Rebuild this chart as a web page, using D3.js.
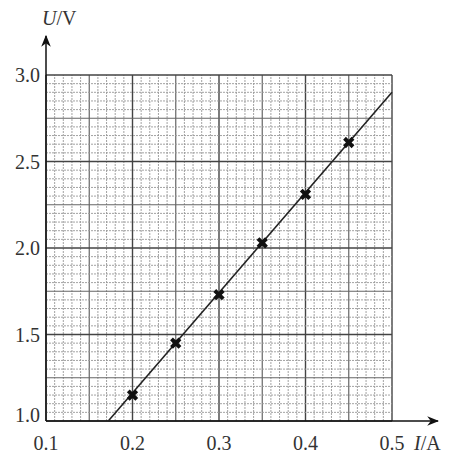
<!DOCTYPE html>
<html>
<head>
<meta charset="utf-8">
<script src="https://cdn.jsdelivr.net/npm/d3@7.9.0/dist/d3.min.js"></script>
<style>
  body { margin: 0; background: #fff; }
  svg { display: block; }
  text { font-family: "Liberation Serif", "DejaVu Serif", serif; fill: #333; }
</style>
</head>
<body>
<div id="chart"></div>
<script>
const currents = [0.2, 0.25, 0.3, 0.35, 0.4, 0.45];
const voltages = [1.15, 1.45, 1.73, 2.03, 2.31, 2.61];
// fitted line end points
const fitLine = [[0.172, 1.0], [0.5, 2.9]];
const xTicks = [0.1, 0.2, 0.3, 0.4, 0.5];
const yTicks = [1.0, 1.5, 2.0, 2.5, 3.0];

const width = 457, height = 455;
const svg = d3.select('#chart').append('svg')
  .attr('width', width).attr('height', height);

const x = d3.scaleLinear().domain([0.1, 0.5]).range([46, 392]);
const y = d3.scaleLinear().domain([1.0, 3.0]).range([421, 75]);

// grid paper: minor every 0.01 A / 0.05 V, medium at half, major at ticks
const grid = svg.append('g');
const styleOf = i => i % 10 === 0
  ? { c: '#444', w: 1.4, d: null }
  : i % 5 === 0 ? { c: '#666', w: 1.2, d: null } : { c: '#999', w: 0.9, d: '2,1' };
d3.range(0, 41).forEach(i => {
  const s = styleOf(i), v = 0.1 + i * 0.01;
  grid.append('line')
    .attr('x1', x(v)).attr('x2', x(v)).attr('y1', y(1.0)).attr('y2', y(3.0))
    .attr('stroke', s.c).attr('stroke-width', s.w).attr('stroke-dasharray', s.d);
});
d3.range(0, 41).forEach(i => {
  const s = styleOf(i), v = 1.0 + i * 0.05;
  grid.append('line')
    .attr('x1', x(0.1)).attr('x2', x(0.5)).attr('y1', y(v)).attr('y2', y(v))
    .attr('stroke', s.c).attr('stroke-width', s.w).attr('stroke-dasharray', s.d);
});

// axes with arrows
svg.append('defs').append('marker')
  .attr('id', 'arrow').attr('viewBox', '0 0 10 10')
  .attr('refX', 9).attr('refY', 5)
  .attr('markerWidth', 12).attr('markerHeight', 12)
  .attr('markerUnits', 'userSpaceOnUse')
  .attr('orient', 'auto')
  .append('path').attr('d', 'M0,1 L10,5 L0,9 L3,5 Z').attr('fill', '#111');

svg.append('line')
  .attr('x1', x(0.1)).attr('y1', y(1.0)).attr('x2', 438).attr('y2', y(1.0))
  .attr('stroke', '#111').attr('stroke-width', 1.5).attr('marker-end', 'url(#arrow)');
svg.append('line')
  .attr('x1', x(0.1)).attr('y1', y(1.0)).attr('x2', x(0.1)).attr('y2', 36)
  .attr('stroke', '#111').attr('stroke-width', 1.5).attr('marker-end', 'url(#arrow)');

// tick labels
svg.append('g').selectAll('text').data(xTicks).join('text')
  .attr('x', d => x(d)).attr('y', 450)
  .attr('text-anchor', 'middle').attr('font-size', 20)
  .text(d => d3.format('.1f')(d));
svg.append('g').selectAll('text').data(yTicks).join('text')
  .attr('x', 40).attr('y', d => y(d) + 7 - (d === 1.0 ? 6 : 0))
  .attr('text-anchor', 'end').attr('font-size', 20)
  .text(d => d3.format('.1f')(d));

// axis names
svg.append('text').attr('x', 42).attr('y', 25).attr('font-size', 20)
  .html('<tspan font-style="italic">U</tspan>/V');
svg.append('text').attr('x', 414).attr('y', 450).attr('font-size', 20)
  .html('<tspan font-style="italic">I</tspan>/A');

// fitted line
svg.append('path')
  .attr('d', d3.line().x(d => x(d[0])).y(d => y(d[1]))(fitLine))
  .attr('fill', 'none').attr('stroke', '#222').attr('stroke-width', 1.6);

// data points
svg.append('g').selectAll('path').data(currents.map((c, i) => [c, voltages[i]])).join('path')
  .attr('transform', d => `translate(${x(d[0])},${y(d[1])}) rotate(45)`)
  .attr('d', d3.symbol(d3.symbolCross, 80))
  .attr('fill', '#111');
</script>
</body>
</html>
